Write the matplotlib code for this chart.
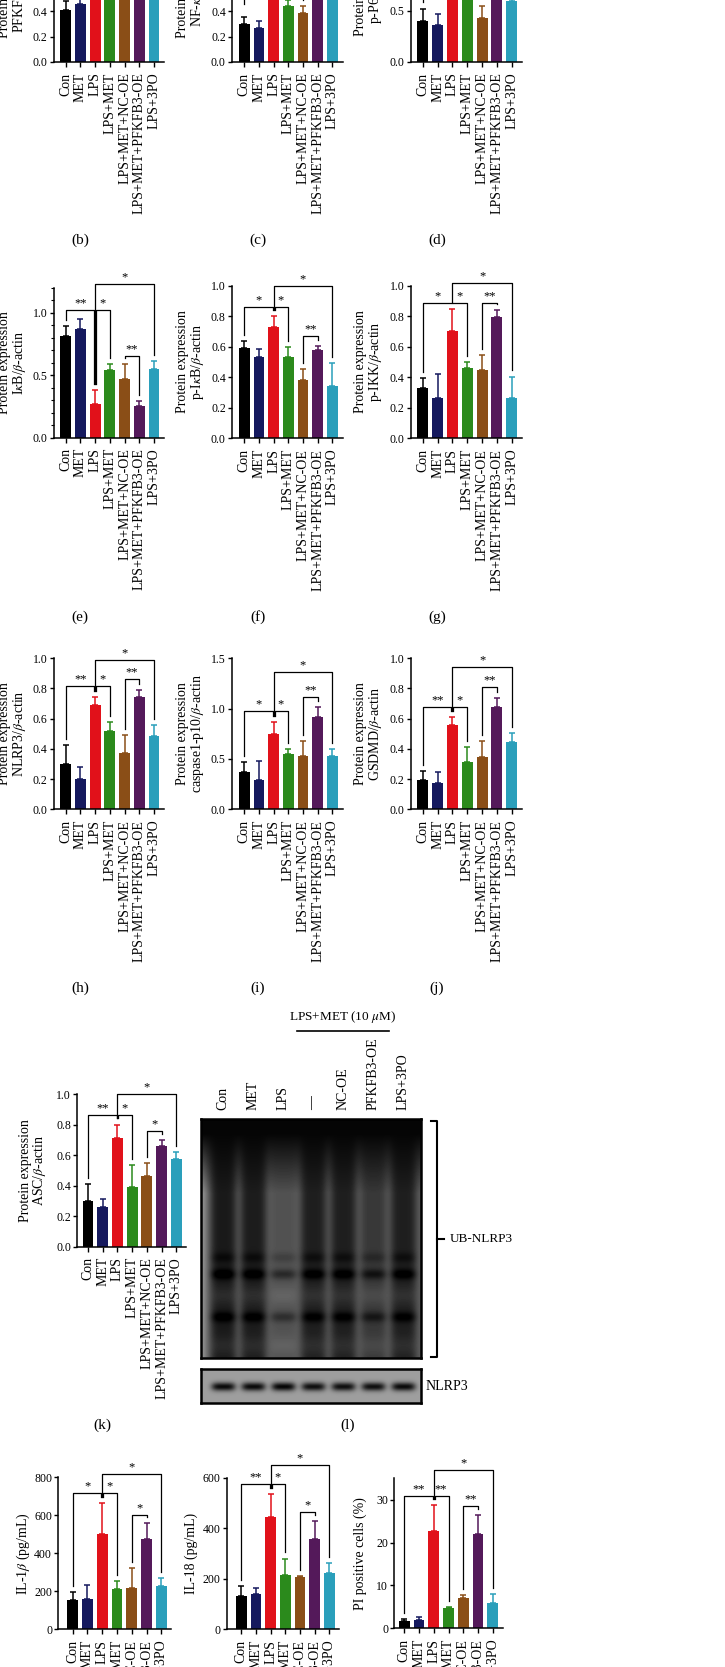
import numpy as np
import matplotlib
matplotlib.use("Agg")
import matplotlib.pyplot as plt

plt.rcParams['font.family'] = ['Liberation Serif', 'DejaVu Serif']
plt.rcParams['mathtext.fontset'] = 'stix'

# groups and colours
CATS = ["Con", "MET", "LPS", "LPS+MET", "LPS+MET+NC-OE", "LPS+MET+PFKFB3-OE", "LPS+3PO"]
COLORS = ["#000000", "#15195e", "#e1111a", "#2b8a1c", "#8a4e17", "#54195a", "#2a9fbb"]

# bar means / SD (top row partly hidden, estimated)
b_mean = [0.41, 0.46, 0.92, 0.62, 0.66, 0.95, 0.60]
b_err = [0.07, 0.07, 0.10, 0.06, 0.08, 0.07, 0.06]
c_mean = [0.30, 0.27, 0.82, 0.44, 0.39, 0.78, 0.56]
c_err = [0.055, 0.055, 0.09, 0.05, 0.05, 0.07, 0.06]
d_mean = [0.40, 0.36, 1.15, 0.80, 0.43, 1.10, 0.59]
d_err = [0.12, 0.11, 0.12, 0.10, 0.12, 0.12, 0.08]
e_mean = [0.81, 0.865, 0.265, 0.54, 0.47, 0.255, 0.55]
e_err = [0.085, 0.085, 0.115, 0.045, 0.115, 0.035, 0.065]
f_mean = [0.594, 0.534, 0.728, 0.536, 0.384, 0.578, 0.345]
f_err = [0.043, 0.053, 0.072, 0.064, 0.069, 0.028, 0.15]
g_mean = [0.33, 0.265, 0.705, 0.46, 0.445, 0.795, 0.265]
g_err = [0.065, 0.155, 0.14, 0.04, 0.10, 0.045, 0.14]
h_mean = [0.30, 0.20, 0.69, 0.52, 0.37, 0.745, 0.485]
h_err = [0.125, 0.08, 0.055, 0.055, 0.12, 0.045, 0.075]
i_mean = [0.37, 0.29, 0.75, 0.55, 0.525, 0.92, 0.525]
i_err = [0.10, 0.19, 0.12, 0.045, 0.155, 0.10, 0.075]
j_mean = [0.195, 0.175, 0.555, 0.31, 0.345, 0.675, 0.445]
j_err = [0.06, 0.075, 0.055, 0.105, 0.11, 0.065, 0.06]
k_mean = [0.30, 0.26, 0.715, 0.39, 0.46, 0.66, 0.575]
k_err = [0.11, 0.055, 0.085, 0.145, 0.09, 0.04, 0.045]
m_mean = [154, 157, 500, 210, 216, 474, 230]
m_err = [41, 76, 163, 46, 105, 84, 38]
n_mean = [133, 140, 443, 214, 206, 356, 224]
n_err = [38, 22, 92, 66, 5, 73, 40]
o_mean = [1.6, 1.9, 22.6, 4.65, 7.1, 21.9, 6.0]
o_err = [0.6, 0.8, 6.1, 0.25, 0.6, 4.6, 2.0]

# significance brackets: (from, to, level, text[, leg_from, leg_to])
b_sig = [(0, 2, 1.08, '**'), (2, 3, 1.08, '*'), (4, 5, 1.08, '**'), (2, 6, 1.18, '*')]
c_sig = [(0, 2, 0.95, '*', 0.46, None), (2, 3, 0.95, '*'), (4, 5, 0.90, '*'), (2, 6, 1.12, '*')]
d_sig = [(0, 2, 1.35, '*'), (2, 3, 1.35, '*'), (4, 5, 1.35, '**'), (2, 6, 1.48, '*')]
e_sig = [(0, 2, 1.02, '**'), (2, 3, 1.02, '*'), (4, 5, 0.655, '**'), (2, 6, 1.23, '*')]
f_sig = [(0, 2, 0.86, '*'), (2, 3, 0.86, '*'), (4, 5, 0.67, '**'), (2, 6, 1.0, '*')]
g_sig = [(0, 2, 0.89, '*'), (2, 3, 0.89, '*'), (4, 5, 0.89, '**'), (2, 6, 1.02, '*')]
h_sig = [(0, 2, 0.815, '**'), (2, 3, 0.815, '*'), (4, 5, 0.86, '**'), (2, 6, 0.99, '*')]
i_sig = [(0, 2, 0.98, '*'), (2, 3, 0.98, '*'), (4, 5, 1.12, '**'), (2, 6, 1.36, '*')]
j_sig = [(0, 2, 0.68, '**'), (2, 3, 0.68, '*'), (4, 5, 0.81, '**'), (2, 6, 0.94, '*')]
k_sig = [(0, 2, 0.86, '**'), (2, 3, 0.86, '*'), (4, 5, 0.76, '*'), (2, 6, 1.0, '*')]
m_sig = [(0, 2, 715, '*'), (2, 3, 715, '*'), (4, 5, 601, '*'), (2, 6, 818, '*')]
n_sig = [(0, 2, 574, '**'), (2, 3, 574, '*'), (4, 5, 465, '*'), (2, 6, 650, '*')]
o_sig = [(0, 2, 30.8, '**'), (2, 3, 30.8, '**'), (4, 5, 28.5, '**'), (2, 6, 37, '*')]

# blot lanes
BLOT_LANES = ["Con", "MET", "LPS", "\u2014", "NC-OE", "PFKFB3-OE", "LPS+3PO"]
lane_pos = [22, 52, 82, 112, 142, 172, 202]          # px inside blot box
smear_level = [0.08, 0.09, 0.30, 0.10, 0.10, 0.20, 0.10]
band_rows = [0.58, 0.65, 0.83]
band_strength = [0.07, 0.16, 0.14]
nlrp3_level = [0.58, 0.58, 0.60, 0.56, 0.56, 0.56, 0.58]

W, H = 725, 1667
fig = plt.figure(figsize=(W / 100, H / 100), dpi=100)
ov = fig.add_axes([0, 0, 1, 1])
ov.set_xlim(0, W)
ov.set_ylim(H, 0)
ov.axis('off')


def bar_panel(spine, con, tpo, end, zero, top, ytop, yticks, fmt, mean, err,
              sig, ylabel, lab_off, minor=None):
    ax = fig.add_axes([spine / W, 1 - zero / H, (end - spine) / W, (zero - top) / H])
    ax.patch.set_alpha(0)
    sp = (tpo - con) / 6
    ax.set_xlim((spine - con) / sp, (end - con) / sp)
    ax.set_ylim(0, ytop)
    x = np.arange(7)
    ax.bar(x, mean, width=0.74, color=COLORS, zorder=2)
    for xi, mv, ev, col in zip(x, mean, err, COLORS):
        ax.errorbar(xi, mv, yerr=[[0], [ev]], color=col, capsize=2.3,
                    elinewidth=1.1, capthick=1.1, zorder=3)
    for s in ['top', 'right']:
        ax.spines[s].set_visible(False)
    for s in ['left', 'bottom']:
        ax.spines[s].set_linewidth(1.1)
    ax.set_xticks(x)
    ax.set_xticklabels(CATS, rotation=90, fontsize=10)
    ax.set_yticks(yticks)
    ax.set_yticklabels([fmt.format(t) for t in yticks], fontsize=8.5)
    if minor is not None:
        ax.set_yticks(minor, minor=True)
        ax.tick_params(axis='y', which='minor', length=2, width=0.8)
    ax.tick_params(axis='x', length=3.5, width=1.0, pad=4)
    ax.tick_params(axis='y', length=3, width=1.0, pad=1.5)
    gap = 0.04 * ytop
    for b in sig:
        i, j, lev, txt = b[:4]
        li = b[4] if len(b) > 4 and b[4] is not None else mean[i] + err[i] + gap
        lj = b[5] if len(b) > 5 and b[5] is not None else mean[j] + err[j] + gap
        xi = i + 0.06 if (i == 2 and j == 3) else i
        xj = j - 0.06 if (i == 0 and j == 2) else j
        ax.plot([xi, xi, xj, xj], [li, lev, lev, lj], color='black', lw=0.9,
                clip_on=False, zorder=4)
        ax.annotate(txt, xy=((i + j) / 2, lev), xytext=(0, 0.5), textcoords='offset points',
                    ha='center', va='bottom', fontsize=9, annotation_clip=False)
    ov.text(spine + lab_off, (zero + top) / 2, ylabel, rotation=90, ha='center',
            va='center', fontsize=10, linespacing=0.95, multialignment='center')
    return ax


PE = "Protein expression\n"
t02 = [0, 0.2, 0.4, 0.6, 0.8, 1.0]

# row 1
bar_panel(54, 65.7, 154, 164, 62, -89.8, 1.2, t02 + [1.2], "{:.1f}", b_mean, b_err, b_sig,
          PE + r"PFKFB3/$\beta$-actin", -41)
bar_panel(232, 244.3, 332.3, 343, 62, -89.8, 1.2, t02 + [1.2], "{:.1f}", c_mean, c_err, c_sig,
          PE + r"NF-$\kappa$B/$\beta$-actin", -41)
bar_panel(411, 422.7, 511.7, 522, 62, -91.9, 1.5, [0, 0.5, 1.0, 1.5], "{:.1f}", d_mean, d_err,
          d_sig, PE + r"p-P65/$\beta$-actin", -42)
# row 2
bar_panel(54, 65.7, 154, 164, 437.5, 287.5, 1.2, [0, 0.5, 1.0], "{:.1f}", e_mean, e_err, e_sig,
          PE + r"I$\kappa$B/$\beta$-actin", -41, minor=np.arange(0, 1.21, 0.1))
bar_panel(232, 244.3, 332.3, 343, 438.3, 285.8, 1.0, t02, "{:.1f}", f_mean, f_err, f_sig,
          PE + r"p-I$\kappa$B/$\beta$-actin", -41)
bar_panel(411, 422.7, 511.7, 522, 438.3, 285.8, 1.0, t02, "{:.1f}", g_mean, g_err, g_sig,
          PE + r"p-IKK/$\beta$-actin", -42)
# row 3
bar_panel(54, 65.7, 154, 164, 809.3, 658.3, 1.0, t02, "{:.1f}", h_mean, h_err, h_sig,
          PE + r"NLRP3/$\beta$-actin", -41)
bar_panel(232, 244.3, 332.3, 343, 809.3, 658.3, 1.5, [0, 0.5, 1.0, 1.5], "{:.1f}", i_mean,
          i_err, i_sig, PE + r"caspase1-p10/$\beta$-actin", -41)
bar_panel(411, 422.7, 511.7, 522, 809.3, 658.3, 1.0, t02, "{:.1f}", j_mean, j_err, j_sig,
          PE + r"GSDMD/$\beta$-actin", -42)
# row 4
bar_panel(77.3, 88, 176.3, 186, 1246.7, 1094, 1.0, t02, "{:.1f}", k_mean, k_err, k_sig,
          PE + r"ASC/$\beta$-actin", -44)
# row 5
bar_panel(58.3, 72.7, 161.3, 170.7, 1629.3, 1477.3, 800, [0, 200, 400, 600, 800], "{:d}",
          m_mean, m_err, m_sig, r"IL-1$\beta$ (pg/mL)", -35)
bar_panel(226.7, 241.3, 329.3, 339.3, 1629.3, 1477.7, 600, [0, 200, 400, 600], "{:d}",
          n_mean, n_err, n_sig, "IL-18 (pg/mL)", -35)
bar_panel(394.3, 404.3, 492.7, 502.7, 1628.3, 1478.3, 35, [0, 10, 20, 30], "{:d}",
          o_mean, o_err, o_sig, "PI positive cells (%)", -34)

# blot (l): lanes built from the lane lists above
bw, bh = 220, 239
yy = np.linspace(0, 1, bh)[:, None]
xx = np.arange(bw)[None, :]
wts = np.array([np.exp(-((xx - c) / 13.0) ** 4) for c in lane_pos])
lane = np.clip(wts.sum(axis=0), 0, 1)
lvl = (wts * np.array(smear_level)[:, None, None]).sum(axis=0) / (wts.sum(axis=0) + 1e-9)
ramp = np.clip((yy - 0.06) / 0.25, 0, 1)
img = 0.02 + ramp * (lvl * lane + 0.34 * (1 - lane))
img = img + 0.07 * np.exp(-((yy - 0.74) / 0.04) ** 2) * lane
img = img + 0.06 * np.exp(-((yy - 0.95) / 0.04) ** 2) * lane
img = img + 0.20 * np.exp(-(xx / 6.0) ** 2) * ramp
for br, bs in zip(band_rows, band_strength):
    img = img - bs * np.exp(-((yy - br) / 0.022) ** 2) * lane
img = np.clip(img, 0, 1)

axb = fig.add_axes([201 / W, 1 - 1358 / H, bw / W, bh / H])
axb.imshow(img, cmap='gray', vmin=0, vmax=1, aspect='auto', interpolation='bilinear')
axb.set_xticks([])
axb.set_yticks([])
for s in axb.spines.values():
    s.set_linewidth(1.8)

nh = 34
yy2 = np.linspace(0, 1, nh)[:, None]
wts2 = np.array([np.exp(-((xx - c) / 12.0) ** 4) for c in lane_pos])
band2 = (wts2 * np.array(nlrp3_level)[:, None, None]).sum(axis=0)
img2 = 0.62 - band2 * np.exp(-((yy2 - 0.52) / 0.13) ** 2)
img2 = np.clip(img2, 0, 1)
axn = fig.add_axes([201 / W, 1 - 1403 / H, bw / W, nh / H])
axn.imshow(img2, cmap='gray', vmin=0, vmax=1, aspect='auto', interpolation='bilinear')
axn.set_xticks([])
axn.set_yticks([])
for s in axn.spines.values():
    s.set_linewidth(1.8)

for lab, p in zip(BLOT_LANES, lane_pos):
    ov.text(201 + p, 1110, lab, rotation=90, ha='center', va='bottom', fontsize=10)
ov.text(342.7, 1017, r"LPS+MET (10 $\mu$M)", ha='center', va='center', fontsize=9.5)
ov.plot([296.7, 389], [1031, 1031], color='black', lw=1.2)
ov.plot([431, 436.7, 436.7, 431], [1121, 1121, 1357, 1357], color='black', lw=1.5)
ov.plot([436.7, 444], [1239, 1239], color='black', lw=1.5)
ov.text(450, 1239, "UB-NLRP3", ha='left', va='center', fontsize=9.5)
ov.text(426, 1386, "NLRP3", ha='left', va='center', fontsize=10)

# panel letters
for txt, x, y in [("(b)", 80, 240), ("(c)", 258, 240), ("(d)", 437, 240),
                  ("(e)", 80, 617), ("(f)", 258, 617), ("(g)", 437, 617),
                  ("(h)", 80, 988), ("(i)", 258, 988), ("(j)", 437, 988),
                  ("(k)", 102, 1425), ("(l)", 348, 1425)]:
    ov.text(x, y, txt, ha='center', va='center', fontsize=11)

fig.savefig("out.png", dpi=100)
